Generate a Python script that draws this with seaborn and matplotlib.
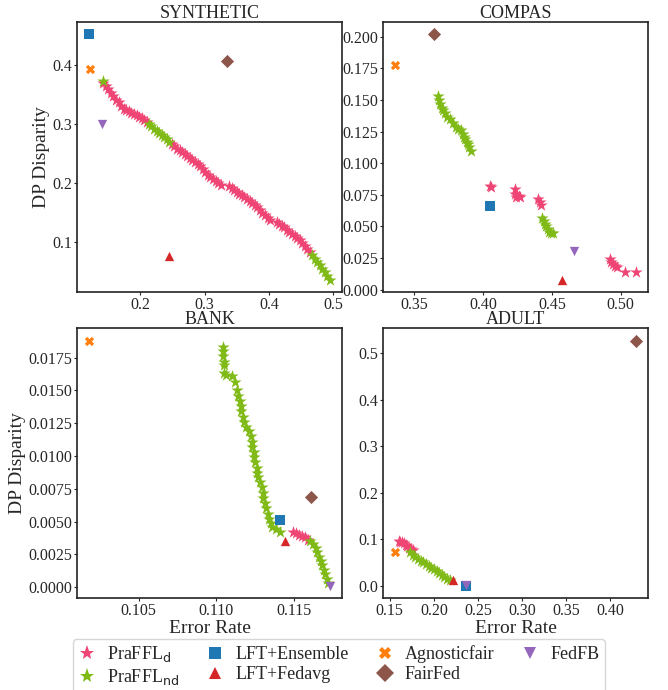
import matplotlib
matplotlib.use('Agg')
import matplotlib.pyplot as plt
import seaborn as sns
import pandas as pd
from matplotlib.lines import Line2D
from matplotlib.ticker import MultipleLocator

sns.set_style('ticks')
plt.rcParams['font.family'] = ['Liberation Serif', 'DejaVu Sans']
plt.rcParams['axes.edgecolor'] = '#222222'

# ---- data ----
methods = [r'PraFFL$_{\rm d}$', r'PraFFL$_{\rm nd}$', 'LFT+Ensemble', 'LFT+Fedavg',
           'Agnosticfair', 'FairFed', 'FedFB']
colors = ['#ee4574', '#7fba17', '#1f77b4', '#d62728', '#ff7f0e', '#8c564b', '#9467bd']
markers = ['*', '*', 's', '^', 'X', 'D', 'v']
titles = ['SYNTHETIC', 'COMPAS', 'BANK', 'ADULT']
# tick steps per panel (x, y)
tick_steps = [(0.1, 0.1), (0.05, 0.025), (0.005, 0.0025), (0.05, 0.1)]

# SYNTHETIC
syn_d_x = [0.142, 0.146, 0.150, 0.154, 0.158, 0.162, 0.166, 0.170, 0.174,
           0.178, 0.182, 0.186, 0.190, 0.194, 0.198, 0.202, 0.206, 0.210,
           0.249, 0.253, 0.257, 0.261, 0.265, 0.269, 0.273, 0.277, 0.281, 0.285,
           0.289, 0.293, 0.297, 0.301, 0.305, 0.309, 0.313, 0.317, 0.321, 0.325,
           0.338, 0.342, 0.346, 0.350, 0.354, 0.358, 0.362, 0.366, 0.370, 0.374,
           0.378, 0.382, 0.386, 0.390, 0.394, 0.398, 0.402,
           0.412, 0.416, 0.420, 0.424, 0.428, 0.432, 0.436, 0.440, 0.444, 0.448,
           0.452, 0.456, 0.460, 0.464]
syn_d_y = [0.369, 0.364, 0.358, 0.352, 0.347, 0.341, 0.336, 0.330, 0.325,
           0.323, 0.321, 0.319, 0.317, 0.315, 0.312, 0.309, 0.306, 0.303,
           0.266, 0.262, 0.258, 0.255, 0.252, 0.249, 0.245, 0.242, 0.239, 0.236,
           0.232, 0.228, 0.224, 0.219, 0.214, 0.210, 0.206, 0.203, 0.200, 0.197,
           0.195, 0.191, 0.188, 0.185, 0.182, 0.179, 0.176, 0.173, 0.170, 0.167,
           0.163, 0.159, 0.155, 0.150, 0.146, 0.141, 0.137,
           0.135, 0.131, 0.128, 0.125, 0.121, 0.118, 0.114, 0.111, 0.107, 0.103,
           0.098, 0.093, 0.088, 0.083]
syn_nd_x = [0.141, 0.213, 0.217, 0.221, 0.225, 0.229, 0.233, 0.237, 0.241, 0.245,
            0.467, 0.471, 0.475, 0.479, 0.483, 0.487, 0.491, 0.495]
syn_nd_y = [0.373, 0.299, 0.296, 0.292, 0.288, 0.285, 0.281, 0.277, 0.274, 0.270,
            0.078, 0.072, 0.066, 0.061, 0.055, 0.049, 0.043, 0.037]
syn_base_x = [0.120, 0.244, 0.121, 0.335, 0.140]
syn_base_y = [0.451, 0.076, 0.392, 0.406, 0.300]

# COMPAS
com_d_x = [0.405, 0.406, 0.423, 0.423, 0.424, 0.426, 0.427, 0.440, 0.441, 0.442,
           0.492, 0.493, 0.494, 0.496, 0.497, 0.503, 0.511]
com_d_y = [0.082, 0.081, 0.080, 0.076, 0.073, 0.074, 0.073, 0.072, 0.069, 0.067,
           0.024, 0.022, 0.020, 0.019, 0.018, 0.014, 0.014]
com_nd_x = [0.367, 0.368, 0.369, 0.370, 0.371, 0.372, 0.374, 0.376, 0.378, 0.380,
            0.382, 0.384, 0.385, 0.386, 0.387, 0.388, 0.389, 0.390, 0.391,
            0.443, 0.444, 0.445, 0.446, 0.447, 0.448, 0.449, 0.451]
com_nd_y = [0.153, 0.150, 0.147, 0.144, 0.142, 0.140, 0.137, 0.135, 0.132, 0.129,
            0.127, 0.126, 0.123, 0.121, 0.119, 0.117, 0.115, 0.113, 0.110,
            0.057, 0.054, 0.052, 0.050, 0.048, 0.046, 0.045, 0.045]
com_base_x = [0.405, 0.457, 0.336, 0.364, 0.466]
com_base_y = [0.066, 0.008, 0.178, 0.202, 0.031]

# BANK
bank_d_x = [0.1149, 0.1151, 0.1153, 0.1155, 0.1157, 0.1159]
bank_d_y = [0.0042, 0.0041, 0.0040, 0.0039, 0.0038, 0.0036]
bank_nd_x = [0.1104, 0.1104, 0.1104, 0.1105, 0.1105, 0.1105, 0.1106, 0.1110, 0.1112,
             0.1113, 0.1114, 0.1115, 0.1116, 0.1116, 0.1117, 0.1118, 0.1119, 0.1121,
             0.1122, 0.1123, 0.1123, 0.1124, 0.1124, 0.1125, 0.1126, 0.1126, 0.1127,
             0.1128, 0.1129, 0.1130, 0.1130, 0.1131, 0.1132, 0.1133, 0.1134, 0.1135,
             0.1136, 0.1138, 0.1141,
             0.1160, 0.1162, 0.1164, 0.1165, 0.1166, 0.1167, 0.1168, 0.1169, 0.1170,
             0.1171, 0.1172]
bank_nd_y = [0.0183, 0.0180, 0.0176, 0.0172, 0.0169, 0.0163, 0.0162, 0.0161, 0.0156,
             0.0150, 0.0146, 0.0142, 0.0138, 0.0134, 0.0130, 0.0126, 0.0122, 0.0119,
             0.0115, 0.0111, 0.0107, 0.0103, 0.0099, 0.0095, 0.0091, 0.0087, 0.0084,
             0.0080, 0.0076, 0.0072, 0.0068, 0.0064, 0.0060, 0.0056, 0.0052, 0.0049,
             0.0046, 0.0044, 0.0042,
             0.0035, 0.0033, 0.0030, 0.0027, 0.0023, 0.0020, 0.0017, 0.0013, 0.0010,
             0.0006, 0.0003]
bank_base_x = [0.1141, 0.1144, 0.1018, 0.1161, 0.1173]
bank_base_y = [0.0051, 0.0035, 0.0188, 0.0069, 0.0001]

# ADULT
adu_d_x = [0.160, 0.162, 0.164, 0.166, 0.168, 0.170, 0.172, 0.174, 0.176]
adu_d_y = [0.097, 0.095, 0.093, 0.091, 0.088, 0.085, 0.082, 0.079, 0.076]
adu_nd_x = [0.173, 0.176, 0.179, 0.182, 0.185, 0.188, 0.191, 0.194, 0.197, 0.200,
            0.203, 0.206, 0.209, 0.212, 0.215, 0.218]
adu_nd_y = [0.072, 0.067, 0.062, 0.058, 0.054, 0.050, 0.046, 0.043, 0.039, 0.035,
            0.031, 0.027, 0.023, 0.019, 0.015, 0.012]
adu_base_x = [0.236, 0.222, 0.156, 0.429, 0.236]
adu_base_y = [0.000, 0.012, 0.072, 0.527, 0.001]

panels = [
    (syn_d_x, syn_d_y, syn_nd_x, syn_nd_y, syn_base_x, syn_base_y),
    (com_d_x, com_d_y, com_nd_x, com_nd_y, com_base_x, com_base_y),
    (bank_d_x, bank_d_y, bank_nd_x, bank_nd_y, bank_base_x, bank_base_y),
    (adu_d_x, adu_d_y, adu_nd_x, adu_nd_y, adu_base_x, adu_base_y),
]

fig, axes = plt.subplots(2, 2, figsize=(6.68, 6.9))
plt.subplots_adjust(left=0.1153, right=0.970, top=0.968, bottom=0.1333,
                    wspace=0.155, hspace=0.135)

for i, (ax, p) in enumerate(zip(axes.flat, panels)):
    dx, dy, ndx, ndy, bx, by = p
    sns.scatterplot(x=dx, y=dy, color=colors[0], marker='*', s=85, linewidth=0, ax=ax)
    sns.scatterplot(x=ndx, y=ndy, color=colors[1], marker='*', s=85, linewidth=0, ax=ax)
    for j in range(5):
        sns.scatterplot(x=[bx[j]], y=[by[j]], color=colors[j + 2], marker=markers[j + 2],
                        s=45, linewidth=0, ax=ax)
    ax.xaxis.set_major_locator(MultipleLocator(tick_steps[i][0]))
    ax.yaxis.set_major_locator(MultipleLocator(tick_steps[i][1]))
    ax.set_title(titles[i], fontsize=13, pad=0.5)
    ax.tick_params(labelsize=11.5, length=2.5, width=0.8, pad=1)
    for sp in ax.spines.values():
        sp.set_visible(True)
        sp.set_linewidth(1.2)
    if i % 2 == 0:
        ax.set_ylabel('DP Disparity', fontsize=14, labelpad=2)
    if i >= 2:
        ax.set_xlabel('Error Rate', fontsize=14, labelpad=1)

handles = [Line2D([], [], linestyle='none', marker=markers[k], color=colors[k],
                  markersize=11 if markers[k] == '*' else 9, markeredgewidth=0)
           for k in range(len(methods))]
fig.legend(handles, methods, loc='upper center', bbox_to_anchor=(0.507, 0.0739),
           ncol=4, fontsize=13, handlelength=1.0, handletextpad=0.6,
           columnspacing=1.5, labelspacing=0.15, borderpad=0.3,
           borderaxespad=0, frameon=True)

fig.savefig('out.png', dpi=100)
